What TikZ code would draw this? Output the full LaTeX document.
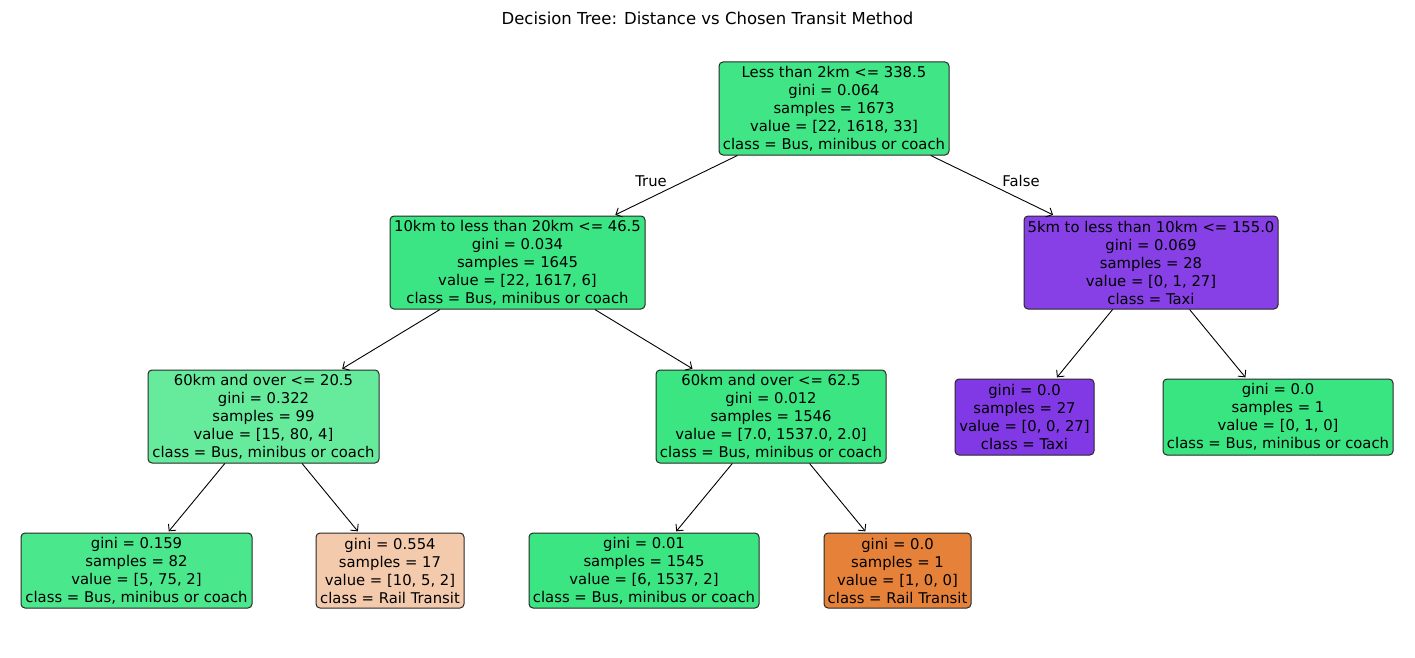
\documentclass[tikz,border=0pt]{standalone}
\usepackage{fontspec}
\setmainfont{DejaVu Sans}
\usetikzlibrary{arrows.meta}
\definecolor{c0}{RGB}{64,230,133}
\definecolor{c1}{RGB}{60,229,131}
\definecolor{c2}{RGB}{102,235,157}
\definecolor{c3}{RGB}{75,231,140}
\definecolor{c4}{RGB}{244,202,172}
\definecolor{c5}{RGB}{58,229,130}
\definecolor{c7}{RGB}{229,129,57}
\definecolor{c8}{RGB}{134,64,230}
\definecolor{c9}{RGB}{129,57,229}
\definecolor{c10}{RGB}{57,229,129}
\definecolor{edgegray}{RGB}{40,40,40}
\begin{document}
\begin{tikzpicture}[x=1pt,y=-1pt,
  treenode/.style={draw=edgegray, line width=1pt, rounded corners=4pt, align=center,
    inner sep=0pt, font=\fontsize{14.8}{18}\selectfont},
  edge/.style={-{Straight Barb[length=5pt,width=10pt]}, line width=0.9pt, shorten >=1.5pt},
  lbl/.style={font=\fontsize{14.8}{18}\selectfont, inner sep=0pt}]
\useasboundingbox (0,0) rectangle (1415,658);
\node[font=\fontsize{16.5}{20}\selectfont] (title) at (707.5,18) {Decision Tree: Distance vs Chosen Transit Method};

\node[treenode, fill=c0, minimum width=230pt, minimum height=93pt] (root) at (834,108.5)
 {Less than 2km <= 338.5\\gini = 0.064\\samples = 1673\\value = [22, 1618, 33]\\class = Bus, minibus or coach};
\node[treenode, fill=c1, minimum width=255pt, minimum height=93pt] (n1) at (517.5,262.5)
 {10km to less than 20km <= 46.5\\gini = 0.034\\samples = 1645\\value = [22, 1617, 6]\\class = Bus, minibus or coach};
\node[treenode, fill=c8, minimum width=254pt, minimum height=93pt] (n8) at (1151,262.5)
 {5km to less than 10km <= 155.0\\gini = 0.069\\samples = 28\\value = [0, 1, 27]\\class = Taxi};
\node[treenode, fill=c2, minimum width=231pt, minimum height=93pt] (n2) at (263.5,416.5)
 {60km and over <= 20.5\\gini = 0.322\\samples = 99\\value = [15, 80, 4]\\class = Bus, minibus or coach};
\node[treenode, fill=c5, minimum width=230pt, minimum height=93pt] (n5) at (771,416.5)
 {60km and over <= 62.5\\gini = 0.012\\samples = 1546\\value = [7.0, 1537.0, 2.0]\\class = Bus, minibus or coach};
\node[treenode, fill=c9, minimum width=139pt, minimum height=76pt] (n9) at (1024.5,417)
 {gini = 0.0\\samples = 27\\value = [0, 0, 27]\\class = Taxi};
\node[treenode, fill=c10, minimum width=230pt, minimum height=76pt] (n10) at (1278,417)
 {gini = 0.0\\samples = 1\\value = [0, 1, 0]\\class = Bus, minibus or coach};
\node[treenode, fill=c3, minimum width=231pt, minimum height=75pt] (n3) at (136.5,570.5)
 {gini = 0.159\\samples = 82\\value = [5, 75, 2]\\class = Bus, minibus or coach};
\node[treenode, fill=c4, minimum width=148pt, minimum height=75pt] (n4) at (390,570.5)
 {gini = 0.554\\samples = 17\\value = [10, 5, 2]\\class = Rail Transit};
\node[treenode, fill=c5, minimum width=230pt, minimum height=75pt] (n6) at (644,570.5)
 {gini = 0.01\\samples = 1545\\value = [6, 1537, 2]\\class = Bus, minibus or coach};
\node[treenode, fill=c7, minimum width=147pt, minimum height=75pt] (n7) at (897.5,570.5)
 {gini = 0.0\\samples = 1\\value = [1, 0, 0]\\class = Rail Transit};

\draw[edge] (root) -- (n1);
\draw[edge] (root) -- (n8);
\draw[edge] (n1) -- (n2);
\draw[edge] (n1) -- (n5);
\draw[edge] (n2) -- (n3);
\draw[edge] (n2) -- (n4);
\draw[edge] (n5) -- (n6);
\draw[edge] (n5) -- (n7);
\draw[edge] (n8) -- (n9);
\draw[edge] (n8) -- (n10);

\node[lbl] (ltrue) at (651,181) {True};
\node[lbl] (lfalse) at (1021,181) {False};
\end{tikzpicture}
\end{document}
